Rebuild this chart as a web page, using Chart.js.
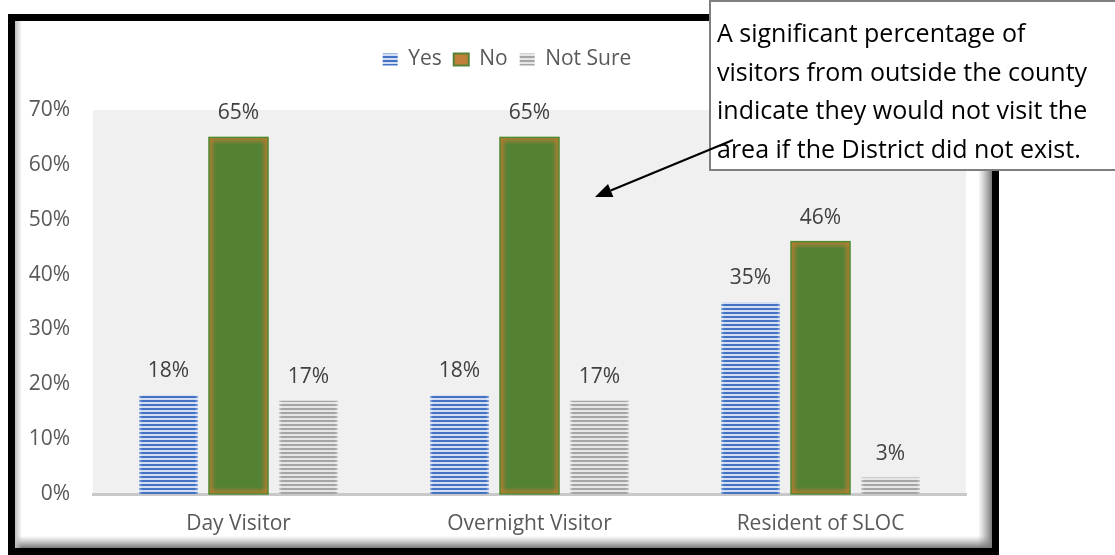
<!DOCTYPE html>
<html>
<head>
<meta charset="utf-8">
<script src="https://cdn.jsdelivr.net/npm/chart.js@4.4.1/dist/chart.umd.min.js"></script>
<style>
html,body{margin:0;padding:0;background:#fff;}
#wrap{position:relative;width:1115px;height:555px;}
</style>
</head>
<body>
<div id="wrap"><canvas id="c" width="1115" height="555"></canvas></div>
<script>
const categories = ["Day Visitor", "Overnight Visitor", "Resident of SLOC"];
const seriesNames = ["Yes", "No", "Not Sure"];
const yesValues = [18, 18, 35];
const noValues = [65, 65, 46];
const notSureValues = [17, 17, 3];
const yTicks = [0, 10, 20, 30, 40, 50, 60, 70];
const calloutLines = [
  "A significant percentage of",
  "visitors from outside the county",
  "indicate they would not visit the",
  "area if the District did not exist."
];

const FONT = "'Open Sans', 'Noto Sans', sans-serif";

function stripePattern(dark, light) {
  const c = document.createElement('canvas');
  c.width = 4; c.height = 4;
  const x = c.getContext('2d');
  x.fillStyle = light; x.fillRect(0, 0, 4, 4);
  x.fillStyle = dark; x.fillRect(0, 0, 4, 2);
  return x.createPattern(c, 'repeat');
}
const bluePat = stripePattern('#4472C4', '#D3DDF1');
const grayPat = stripePattern('#A5A5A5', '#E6E6E6');

const framePlugin = {
  id: 'framePlugin',
  beforeDraw(chart) {
    const c = chart.ctx, a = chart.chartArea;
    c.save();
    c.fillStyle = '#fff';
    c.fillRect(0, 0, chart.width, chart.height);
    let g = c.createLinearGradient(978, 0, 992, 0);
    g.addColorStop(0, 'rgba(150,150,150,0)');
    g.addColorStop(1, 'rgba(120,120,120,1)');
    c.fillStyle = g; c.fillRect(978, 21, 14, 527);
    g = c.createLinearGradient(0, 536, 0, 548);
    g.addColorStop(0, 'rgba(150,150,150,0)');
    g.addColorStop(1, 'rgba(120,120,120,1)');
    c.fillStyle = g; c.fillRect(15, 536, 977, 12);
    g = c.createLinearGradient(15, 0, 22, 0);
    g.addColorStop(0, 'rgba(190,190,190,1)');
    g.addColorStop(1, 'rgba(190,190,190,0)');
    c.fillStyle = g; c.fillRect(15, 21, 7, 527);
    c.strokeStyle = '#000';
    c.lineWidth = 7;
    c.strokeRect(11.5, 17.5, 984, 534);
    c.fillStyle = '#F0F0F0';
    c.fillRect(a.left, a.top, a.right - a.left, a.bottom - a.top);
    c.restore();
  },
  afterDatasetDraw(chart, args) {
    const c = chart.ctx;
    const meta = chart.getDatasetMeta(args.index);
    c.save();
    meta.data.forEach(el => {
      const w = el.width, l = el.x - w / 2, r = el.x + w / 2, t = el.y, b = el.base;
      let glow, d, op;
      if (args.index === 1) { glow = 'rgba(190,124,50,'; d = 7; op = 0.9; }
      else { glow = 'rgba(255,255,255,'; d = 3; op = 0.45; }
      let g = c.createLinearGradient(l, 0, l + d, 0);
      g.addColorStop(0, glow + op + ')'); g.addColorStop(1, glow + '0)');
      c.fillStyle = g; c.fillRect(l, t, d, b - t);
      g = c.createLinearGradient(r, 0, r - d, 0);
      g.addColorStop(0, glow + op + ')'); g.addColorStop(1, glow + '0)');
      c.fillStyle = g; c.fillRect(r - d, t, d, b - t);
      if (args.index === 1) {
        g = c.createLinearGradient(0, t, 0, t + d);
        g.addColorStop(0, glow + op + ')'); g.addColorStop(1, glow + '0)');
        c.fillStyle = g; c.fillRect(l, t, w, d);
        g = c.createLinearGradient(0, b, 0, b - d);
        g.addColorStop(0, glow + op + ')'); g.addColorStop(1, glow + '0)');
        c.fillStyle = g; c.fillRect(l, b - d, w, d);
        c.strokeStyle = '#4E8A2E';
        c.lineWidth = 1.5;
        c.strokeRect(l, t, w, b - t);
      }
    });
    c.restore();
  },
  afterDatasetsDraw(chart) {
    const c = chart.ctx;
    c.save();
    c.font = "21px " + FONT;
    c.fillStyle = '#404040';
    c.textAlign = 'center';
    c.textBaseline = 'middle';
    chart.data.datasets.forEach((ds, di) => {
      chart.getDatasetMeta(di).data.forEach((el, i) => {
        c.fillText(ds.data[i] + '%', el.x, el.y - 24);
      });
    });
    c.restore();
  },
  afterDraw(chart) {
    const c = chart.ctx;
    c.save();
    c.fillStyle = '#fff';
    c.fillRect(710, 1, 410, 169);
    c.strokeStyle = '#7F7F7F';
    c.lineWidth = 2;
    c.strokeRect(710, 1, 410, 169);
    c.fillStyle = '#000';
    c.font = "25px " + FONT;
    c.textAlign = 'left';
    c.textBaseline = 'middle';
    const ys = [35, 74, 112, 151];
    calloutLines.forEach((s, i) => c.fillText(s, 717, ys[i]));
    const x1 = 733, y1 = 140, x2 = 595, y2 = 197;
    const ang = Math.atan2(y2 - y1, x2 - x1);
    const L = 17, W = 7;
    const bx = x2 - L * Math.cos(ang), by = y2 - L * Math.sin(ang);
    c.strokeStyle = '#000';
    c.lineWidth = 2;
    c.beginPath(); c.moveTo(x1, y1); c.lineTo(bx, by); c.stroke();
    c.beginPath();
    c.moveTo(x2, y2);
    c.lineTo(bx + W * Math.sin(ang), by - W * Math.cos(ang));
    c.lineTo(bx - W * Math.sin(ang), by + W * Math.cos(ang));
    c.closePath();
    c.fillStyle = '#000';
    c.fill();
    c.restore();
  }
};

const legendHeightPlugin = {
  id: 'legendHeightPlugin',
  beforeInit(chart) {
    const orig = chart.legend.fit;
    chart.legend.fit = function () {
      orig.bind(chart.legend)();
      this.height = 73;
    };
  }
};

const chart = new Chart(document.getElementById('c'), {
  type: 'bar',
  data: {
    labels: categories,
    datasets: [
      { label: seriesNames[0], data: yesValues, backgroundColor: bluePat, borderWidth: 0 },
      { label: seriesNames[1], data: noValues, backgroundColor: '#548235', borderWidth: 0 },
      { label: seriesNames[2], data: notSureValues, backgroundColor: grayPat, borderWidth: 0 }
    ]
  },
  options: {
    responsive: false,
    animation: false,
    devicePixelRatio: 1,
    layout: { padding: { left: 0, right: 101, top: 37, bottom: 11 } },
    datasets: { bar: { categoryPercentage: 0.7216, barPercentage: 0.843 } },
    plugins: {
      tooltip: { enabled: false },
      legend: {
        position: 'top',
        labels: {
          boxWidth: 15,
          boxHeight: 12,
          padding: 12,
          color: '#595959',
          font: { family: FONT, size: 21 },
          generateLabels(chart) {
            return [
              { text: seriesNames[0], fillStyle: bluePat, strokeStyle: '#4472C4', lineWidth: 0, datasetIndex: 0, fontColor: '#595959' },
              { text: seriesNames[1], fillStyle: '#C0803A', strokeStyle: '#548235', lineWidth: 2, datasetIndex: 1, fontColor: '#595959' },
              { text: seriesNames[2], fillStyle: grayPat, strokeStyle: '#A5A5A5', lineWidth: 0, datasetIndex: 2, fontColor: '#595959' }
            ];
          }
        }
      }
    },
    scales: {
      x: {
        grid: { display: false, drawTicks: false },
        border: { display: true, color: '#C8C8C8', width: 3 },
        ticks: { color: '#595959', font: { family: FONT, size: 21 }, padding: 17 },
        afterFit(scale) { scale.height = 50; }
      },
      y: {
        min: 0, max: 70,
        afterBuildTicks(scale) { scale.ticks = yTicks.map(v => ({ value: v })); },
        grid: { display: false, drawTicks: false },
        border: { display: false },
        ticks: { color: '#595959', font: { family: FONT, size: 21 }, padding: 23, callback: v => v + '%' },
        afterFit(scale) { scale.width = 93; }
      },
      y2: {
        type: 'linear',
        position: 'right',
        display: true,
        grid: { display: false, drawTicks: false },
        border: { display: false },
        ticks: { display: false },
        afterFit(scale) { scale.width = 48; }
      }
    }
  },
  plugins: [framePlugin, legendHeightPlugin]
});
</script>
</body>
</html>
